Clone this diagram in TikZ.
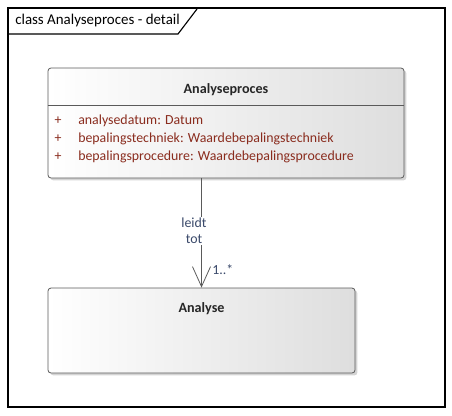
\documentclass[tikz,border=0pt]{standalone}
\usepackage{fontspec}
\setmainfont{Carlito}
\usetikzlibrary{arrows.meta,shadows}
\definecolor{attrred}{HTML}{8A2C1E}
\definecolor{lblblue}{HTML}{3B4A6B}
\definecolor{edgegray}{HTML}{5A5A5A}
\tikzset{
  umlbox/.style={draw=edgegray, semithick, rounded corners=2.25pt,
    left color=white, right color=black!13, shading angle=90,
    drop shadow={shadow xshift=1.8pt, shadow yshift=-1.8pt, fill=black!28, opacity=.6},
    inner sep=0pt},
  attr/.style={anchor=west, text=attrred, inner sep=0pt},
  plus/.style={anchor=center, text=attrred, inner sep=0pt},
  classname/.style={font=\fontsize{10.6}{12}\selectfont\bfseries, text=black!85}
}
\begin{document}
\begin{tikzpicture}[x=0.75pt, y=-0.75pt, every node/.style={font=\fontsize{10.4}{12}\selectfont}]
\useasboundingbox (0,0) rectangle (452,415);
% frame with tab
\draw[black, line width=0.85pt] (8,8) rectangle (445,407);
\draw[black, line width=0.85pt] (8,34) -- (178,34) -- (197,9);
\node[anchor=west, inner sep=0pt, font=\fontsize{11.2}{12}\selectfont] (frametitle) at (15,21) {class Analyseproces - detail};
% class Analyseproces
\node[umlbox, minimum width=267pt, minimum height=82.5pt] (proces) at (226,123) {};
\draw[edgegray, semithick] (proces.west |- 0,105) -- (proces.east |- 0,105);
\node[classname] (procesname) at (226,90) {Analyseproces};
\node[plus] (p1) at (58,121) {+};
\node[plus] (p2) at (58,139) {+};
\node[plus] (p3) at (58,157) {+};
\node[attr] (a1) at (78,121) {analysedatum: Datum};
\node[attr] (a2) at (78,139) {bepalingstechniek: Waardebepalingstechniek};
\node[attr] (a3) at (78,157) {bepalingsprocedure: Waardebepalingsprocedure};
% class Analyse
\node[umlbox, minimum width=230.25pt, minimum height=63.75pt] (analyse) at (201.5,330.5) {};
\node[classname] (analysename) at (201.5,309) {Analyse};
% association
\draw[edgegray, semithick, -{Straight Barb[length=15pt, width=13.5pt]}] (analyse.north |- proces.south) -- (analyse.north);
\node[fill=white, align=center, text=lblblue, inner sep=1pt] (leidt) at (194,231) {leidt\\tot};
\node[anchor=west, text=lblblue, inner sep=0pt] (mult) at (212,270) {1..*};
\end{tikzpicture}
\end{document}
